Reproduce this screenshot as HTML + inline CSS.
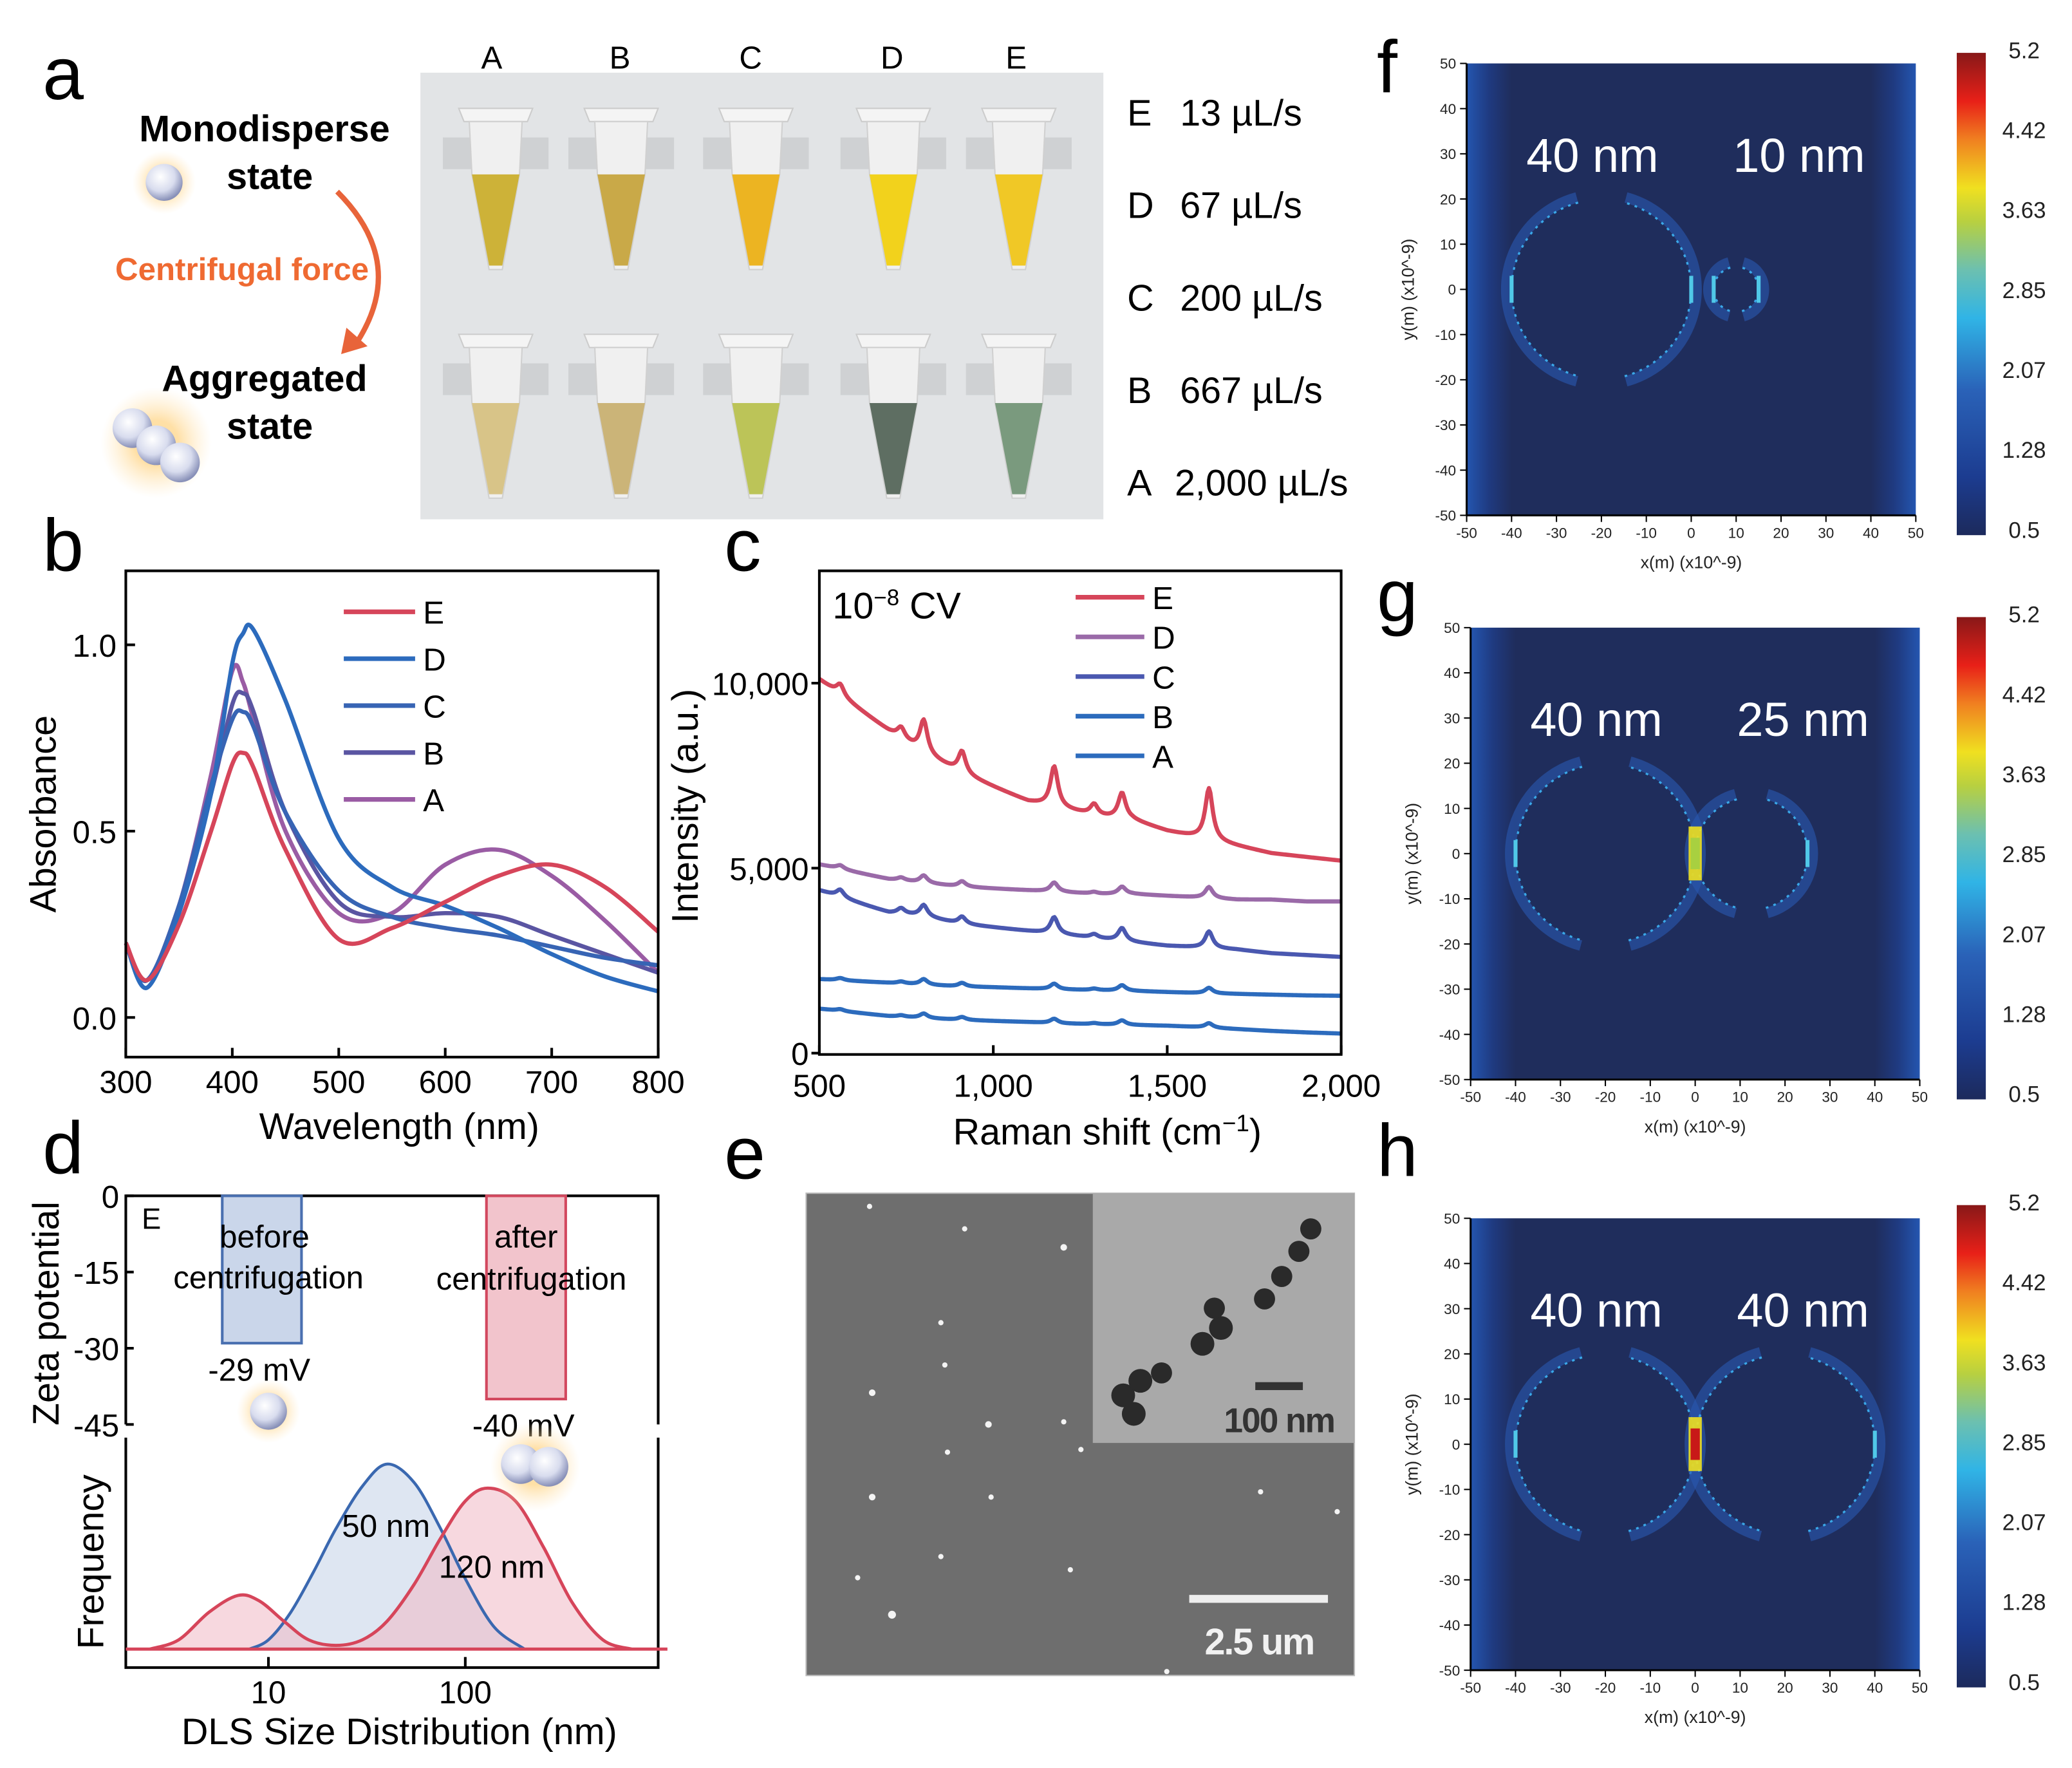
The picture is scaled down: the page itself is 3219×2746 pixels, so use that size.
<!DOCTYPE html>
<html><head><meta charset="utf-8">
<style>
html,body{margin:0;padding:0;background:#fff;}
svg{display:block;font-family:"Liberation Sans",Arial,sans-serif;}
</style></head>
<body>
<svg id="fig" width="3219" height="2746" viewBox="0 0 1568 1338" xmlns="http://www.w3.org/2000/svg">
<defs>
<radialGradient id="sph" cx="0.4" cy="0.35" r="0.65"><stop offset="0" stop-color="#ffffff"/><stop offset="0.6" stop-color="#d8dcee"/><stop offset="1" stop-color="#8890b8"/></radialGradient>
<radialGradient id="glow" cx="0.5" cy="0.5" r="0.5"><stop offset="0.4" stop-color="#ffd890" stop-opacity="0.8"/><stop offset="1" stop-color="#ffe8c0" stop-opacity="0"/></radialGradient>
<linearGradient id="hmbg" x1="0" x2="1" y1="0" y2="0"><stop offset="0" stop-color="#2456b0"/><stop offset="0.05" stop-color="#1f3a80"/><stop offset="0.1" stop-color="#1f2d5c"/><stop offset="0.9" stop-color="#1f2d5c"/><stop offset="0.95" stop-color="#1f3a80"/><stop offset="1" stop-color="#2456b0"/></linearGradient>
<linearGradient id="cbar" x1="0" x2="0" y1="1" y2="0"><stop offset="0" stop-color="#1c2a5c"/><stop offset="0.12" stop-color="#1c3c90"/><stop offset="0.3" stop-color="#2a62b8"/><stop offset="0.45" stop-color="#30b4e6"/><stop offset="0.55" stop-color="#6cc0b0"/><stop offset="0.65" stop-color="#b8d040"/><stop offset="0.72" stop-color="#f0e020"/><stop offset="0.82" stop-color="#f08020"/><stop offset="0.9" stop-color="#e82018"/><stop offset="1" stop-color="#881818"/></linearGradient>
</defs>

<g font-size="56" fill="#000">
<text x="32" y="75">a</text>
<text x="32" y="432">b</text>
<text x="548" y="432">c</text>
<text x="32" y="888">d</text>
<text x="548" y="892">e</text>
<text x="1042" y="70">f</text>
<text x="1042" y="470">g</text>
<text x="1042" y="890">h</text>
</g>

<g>
<text x="200" y="107" font-size="28" font-weight="bold" text-anchor="middle">Monodisperse</text>
<text x="204" y="143" font-size="28" font-weight="bold" text-anchor="middle">state</text>
<circle cx="124" cy="138" r="24" fill="url(#glow)"/>
<circle cx="124" cy="138" r="14" fill="url(#sph)"/>
<path d="M255,145 Q310,200 268,262" fill="none" stroke="#e8643a" stroke-width="4"/>
<path d="M258,268 L262,248 L278,262 Z" fill="#e8643a"/>
<text x="183" y="212" font-size="24" font-weight="bold" fill="#ef6a32" text-anchor="middle">Centrifugal force</text>
<text x="200" y="296" font-size="28" font-weight="bold" text-anchor="middle">Aggregated</text>
<text x="204" y="332" font-size="28" font-weight="bold" text-anchor="middle">state</text>
<g>
<circle cx="118" cy="335" r="42" fill="url(#glow)"/>
<circle cx="100" cy="324" r="15" fill="url(#sph)"/>
<circle cx="118" cy="337" r="15" fill="url(#sph)"/>
<circle cx="136" cy="350" r="15" fill="url(#sph)"/>
</g>
<rect x="318" y="55" width="517" height="338" fill="#e2e4e6"/>
<g id="tubes"></g>
<g font-size="24" text-anchor="middle">
<text x="372" y="52">A</text><text x="469" y="52">B</text><text x="568" y="52">C</text><text x="675" y="52">D</text><text x="769" y="52">E</text>
</g>
<g font-size="28">
<text x="853" y="95">E</text><text x="893" y="95">13 µL/s</text>
<text x="853" y="165">D</text><text x="893" y="165">67 µL/s</text>
<text x="853" y="235">C</text><text x="893" y="235">200 µL/s</text>
<text x="853" y="305">B</text><text x="893" y="305">667 µL/s</text>
<text x="853" y="375">A</text><text x="889" y="375">2,000 µL/s</text>
</g>
</g>

<g>
<g id="bcurves"></g>
<rect x="95" y="432" width="403" height="368" fill="none" stroke="#000" stroke-width="2"/>
<g id="bticks" font-size="24"></g>
<text x="302" y="862" font-size="28" text-anchor="middle">Wavelength (nm)</text>
<text transform="translate(42,616) rotate(-90)" font-size="28" text-anchor="middle">Absorbance</text>
<g id="blegend" font-size="24"></g>
</g>

<g>
<g id="ccurves"></g>
<rect x="620" y="432" width="395" height="366" fill="none" stroke="#000" stroke-width="2"/>
<g id="cticks" font-size="24"></g>
<text x="838" y="866" font-size="28" text-anchor="middle">Raman shift (cm<tspan dy="-10" font-size="18">−1</tspan><tspan dy="10">)</tspan></text>
<text transform="translate(528,610) rotate(-90)" font-size="28" text-anchor="middle">Intensity (a.u.)</text>
<text x="630" y="468" font-size="28">10<tspan dy="-10" font-size="17">−8</tspan><tspan dy="10"> CV</tspan></text>
<g id="clegend" font-size="24"></g>
</g>

<g>
<path d="M95,1078 L95,905 L498,905 L498,1078" fill="none" stroke="#000" stroke-width="2"/>
<path d="M95,1088 L95,1262 L498,1262 L498,1088" fill="none" stroke="#000" stroke-width="2"/>
<g id="zeta"></g>
<g id="dls"></g>
<g id="dticks" font-size="24"></g>
<text x="107" y="930" font-size="22">E</text>
<g font-size="24" text-anchor="middle">
<text x="200" y="944">before</text><text x="203" y="975">centrifugation</text>
<text x="398" y="944">after</text><text x="402" y="976">centrifugation</text>
<text x="196" y="1045">-29 mV</text><text x="396" y="1087">-40 mV</text>
<text x="292" y="1163">50 nm</text><text x="372" y="1194">120 nm</text>
</g>
<circle cx="203" cy="1068" r="24" fill="url(#glow)"/>
<circle cx="203" cy="1068" r="14" fill="url(#sph)"/>
<circle cx="405" cy="1110" r="34" fill="url(#glow)"/>
<circle cx="394" cy="1108" r="15" fill="url(#sph)"/>
<circle cx="415" cy="1110" r="15" fill="url(#sph)"/>
<text transform="translate(44,994) rotate(-90)" font-size="28" text-anchor="middle">Zeta potential</text>
<text transform="translate(78,1182) rotate(-90)" font-size="28" text-anchor="middle">Frequency</text>
<text x="302" y="1320" font-size="28" text-anchor="middle">DLS Size Distribution (nm)</text>
</g>

<g>
<rect x="610" y="903" width="415" height="365" fill="#6e6e6e" stroke="#bbb"/>
<g fill="#f4f4f4">
<circle cx="658" cy="913" r="2"/><circle cx="730" cy="930" r="2"/><circle cx="805" cy="944" r="2.5"/><circle cx="712" cy="1001" r="2"/><circle cx="660" cy="1054" r="2.5"/><circle cx="715" cy="1033" r="2"/><circle cx="748" cy="1078" r="2.5"/><circle cx="805" cy="1076" r="2"/><circle cx="717" cy="1099" r="2"/><circle cx="660" cy="1133" r="2.5"/><circle cx="818" cy="1097" r="2"/><circle cx="750" cy="1133" r="2"/><circle cx="675" cy="1222" r="3"/><circle cx="649" cy="1194" r="2"/><circle cx="712" cy="1178" r="2"/><circle cx="810" cy="1188" r="2"/><circle cx="883" cy="1265" r="2"/><circle cx="954" cy="1129" r="2"/><circle cx="1012" cy="1144" r="2"/>
</g>
<rect x="827" y="903" width="198" height="189" fill="#a9a9a9"/>
<g fill="#2a2a2a">
<circle cx="850" cy="1056" r="9"/><circle cx="863" cy="1045" r="9"/><circle cx="879" cy="1039" r="8"/><circle cx="858" cy="1070" r="9"/>
<circle cx="910" cy="1017" r="9"/><circle cx="924" cy="1005" r="9"/><circle cx="919" cy="990" r="8"/>
<circle cx="957" cy="983" r="8"/><circle cx="970" cy="966" r="8"/><circle cx="983" cy="947" r="8"/><circle cx="992" cy="930" r="8"/>
</g>
<rect x="950" y="1046" width="36" height="6" fill="#333"/>
<text x="968" y="1084" font-size="26" font-weight="bold" fill="#333" text-anchor="middle" letter-spacing="-1">100 nm</text>
<rect x="900" y="1207" width="105" height="6" fill="#eee"/>
<text x="953" y="1252" font-size="28" font-weight="bold" fill="#f2f2f2" text-anchor="middle" letter-spacing="-1">2.5 um</text>
</g>

<g id="heatmaps"></g>
</svg>

<script>
// ---------- Panel b data ----------
const bWave = [300,320,350,380,400,410,420,450,500,550,600,650,700,750,800];
const bSeriesNames = ["E","D","C","B","A"];
const bE = [0.20,0.10,0.25,0.50,0.68,0.71,0.67,0.45,0.21,0.24,0.31,0.38,0.41,0.35,0.23];
const bD = [0.20,0.08,0.28,0.60,0.95,1.03,1.04,0.85,0.48,0.35,0.30,0.24,0.17,0.11,0.07];
const bC = [0.20,0.10,0.30,0.62,0.80,0.82,0.78,0.55,0.34,0.27,0.24,0.22,0.19,0.16,0.14];
const bB = [0.20,0.10,0.30,0.60,0.84,0.87,0.82,0.55,0.31,0.27,0.28,0.27,0.22,0.17,0.12];
const bA = [0.20,0.10,0.30,0.65,0.93,0.90,0.80,0.50,0.28,0.28,0.41,0.45,0.38,0.26,0.12];
const bXTicks = [300,400,500,600,700,800];
const bYTicks = [0.0,0.5,1.0];
const bYTickLabels = ["0.0","0.5","1.0"];

// ---------- Panel c data ----------
const cShift = [500,600,700,800,900,1000,1100,1200,1300,1400,1500,1600,1700,1800,1900,2000];
const cE = [10100,9400,8700,8100,7600,7200,6800,6600,6400,6300,6000,5800,5600,5400,5300,5200];
const cD = [5100,4900,4700,4600,4500,4450,4400,4350,4300,4300,4250,4200,4150,4150,4100,4100];
const cC = [4400,4100,3800,3700,3500,3400,3300,3200,3100,3000,2900,2850,2800,2700,2650,2600];
const cB = [2000,1950,1900,1850,1800,1780,1750,1720,1700,1680,1650,1620,1600,1580,1560,1550];
const cA = [1200,1100,1000,950,900,870,840,800,780,760,740,700,650,600,560,530];
const cPeakPos = [560,735,800,910,1175,1290,1370,1620];
const cPeakE = [300,300,900,600,1100,300,700,1400];
const cPeakD = [100,80,200,150,250,50,200,300];
const cPeakC = [200,150,300,200,450,100,350,450];
const cPeakB = [60,50,150,100,150,40,150,150];
const cPeakA = [50,40,120,80,120,30,120,120];
const cXTicks = [500,1000,1500,2000];
const cXTickLabels = ["500","1,000","1,500","2,000"];
const cYTicks = [0,5000,10000];
const cYTickLabels = ["0","5,000","10,000"];

// ---------- Panel d data ----------
const zetaLabels = ["before","after"];
const zetaValues = [-29,-40];
const zetaYTicks = [0,-15,-30,-45];
const dlsBlueSize = [8,10,13,17,22,30,40,55,75,100,140,200];
const dlsBlueFreq = [0,0.05,0.2,0.42,0.65,0.88,1.0,0.9,0.65,0.38,0.12,0];
const dlsRedSize = [2.5,3.5,5,7,9,12,16,22,30,40,55,75,100,130,180,250,350,500,700];
const dlsRedFreq = [0,0.05,0.2,0.29,0.26,0.15,0.05,0.02,0.05,0.15,0.35,0.6,0.8,0.87,0.8,0.55,0.25,0.05,0];
const dlsXTicks = [10,100];

const NS = "http://www.w3.org/2000/svg";
function mk(parent, tag, attrs, text){
  const e = document.createElementNS(NS, tag);
  for (const k in attrs) e.setAttribute(k, attrs[k]);
  if (text !== undefined) e.textContent = text;
  parent.appendChild(e);
  return e;
}
function smooth(pts){
  let d = "M" + pts[0][0].toFixed(2) + "," + pts[0][1].toFixed(2);
  for (let i=0;i<pts.length-1;i++){
    const p0=pts[Math.max(0,i-1)], p1=pts[i], p2=pts[i+1], p3=pts[Math.min(pts.length-1,i+2)];
    const c1=[p1[0]+(p2[0]-p0[0])/6, p1[1]+(p2[1]-p0[1])/6];
    const c2=[p2[0]-(p3[0]-p1[0])/6, p2[1]-(p3[1]-p1[1])/6];
    d += " C"+c1[0].toFixed(2)+","+c1[1].toFixed(2)+" "+c2[0].toFixed(2)+","+c2[1].toFixed(2)+" "+p2[0].toFixed(2)+","+p2[1].toFixed(2);
  }
  return d;
}

// ---------- Tubes ----------
const tubeG = document.getElementById("tubes");
const tubeX = [375,470,572,676,771];
const topColors = ["#cdb238","#c9a948","#ecb422","#f2d21c","#f0c826"];
const botColors = ["#d8c488","#cbb478","#bcc458","#5e6e62","#7a9a7e"];
[[82,132,204,topColors],[253,305,377,botColors]].forEach(function(row){
  tubeX.forEach(function(cx, i){
    const g = mk(tubeG, "g", {});
    
    
    mk(g, "rect", {x:cx-40, y:row[0]+22, width:22, height:24, fill:"#b8babc", opacity:0.45});
    mk(g, "rect", {x:cx+18, y:row[0]+22, width:22, height:24, fill:"#b8babc", opacity:0.45});
    mk(g, "path", {d:"M"+(cx-28)+","+row[0]+" L"+(cx+28)+","+row[0]+" L"+(cx+24)+","+(row[0]+10)+" L"+(cx-24)+","+(row[0]+10)+" Z", fill:"#f4f4f4", stroke:"#ccc"});
    mk(g, "path", {d:"M"+(cx-20)+","+(row[0]+10)+" L"+(cx+20)+","+(row[0]+10)+" L"+(cx+18)+","+row[1]+" L"+(cx+5)+","+row[2]+" L"+(cx-5)+","+row[2]+" L"+(cx-18)+","+row[1]+" Z", fill:"#f0f0f0", stroke:"#d0d0d0"});
    mk(g, "path", {d:"M"+(cx-18)+","+row[1]+" L"+(cx+18)+","+row[1]+" L"+(cx+5)+","+(row[2]-3)+" L"+(cx-5)+","+(row[2]-3)+" Z", fill:row[3][i]});
  });
});

// ---------- Panel b ----------
const bx = v => 95 + (v-300)/500*403;
const by = v => 770 - v*282;
const bColors = {E:"#d6455a",D:"#2c6bbd",C:"#3764b4",B:"#5a55a2",A:"#9a5ca4"};
const bData = {E:bE,D:bD,C:bC,B:bB,A:bA};
const bG = document.getElementById("bcurves");
["A","B","C","D","E"].forEach(function(n){
  const p = mk(bG, "path", {d:smooth(bWave.map((w,i)=>[bx(w),by(bData[n][i])])), fill:"none", stroke:bColors[n], "stroke-width":3.2, "stroke-linejoin":"round"});
  
  
});
const bT = document.getElementById("bticks");
bXTicks.forEach(function(t){
  mk(bT, "line", {x1:bx(t), x2:bx(t), y1:800, y2:793, stroke:"#000", "stroke-width":2});
  const tx = mk(bT, "text", {x:bx(t), y:827, "text-anchor":"middle"}, String(t));
  
  
});
bYTicks.forEach(function(t,i){
  mk(bT, "line", {x1:95, x2:102, y1:by(t), y2:by(t), stroke:"#000", "stroke-width":2});
  const tx = mk(bT, "text", {x:88, y:by(t)+9, "text-anchor":"end"}, bYTickLabels[i]);
  
  
});
const bL = document.getElementById("blegend");
bSeriesNames.forEach(function(n,i){
  const y = 463 + i*35.5;
  mk(bL, "line", {x1:260, x2:314, y1:y, y2:y, stroke:bColors[n], "stroke-width":3.5});
  const tx = mk(bL, "text", {x:320, y:y+9}, n);
  
  
});

// ---------- Panel c ----------
const cx = v => 620 + (v-500)/1500*395;
const cy = v => 797 - v*0.028;
const cColors = {E:"#d6455a",D:"#9a6aa8",C:"#4a58b0",B:"#2c6bbd",A:"#2c6bbd"};
const cBase = {E:cE,D:cD,C:cC,B:cB,A:cA};
const cPk = {E:cPeakE,D:cPeakD,C:cPeakC,B:cPeakB,A:cPeakA};
const cG = document.getElementById("ccurves");
function baseAt(arr, x){
  for (let i=0;i<cShift.length-1;i++){
    if (x<=cShift[i+1]){ const f=(x-cShift[i])/(cShift[i+1]-cShift[i]); return arr[i]+(arr[i+1]-arr[i])*f; }
  }
  return arr[arr.length-1];
}
["A","B","C","D","E"].forEach(function(n){
  let d = "";
  for (let x=500; x<=2000; x+=4){
    let v = baseAt(cBase[n], x);
    cPeakPos.forEach(function(p,k){ const w=13; v += cPk[n][k]*w*w/((x-p)*(x-p)+w*w); });
    d += (x===500?"M":"L") + cx(x).toFixed(2) + "," + cy(v).toFixed(2);
  }
  const p = mk(cG, "path", {d:d, fill:"none", stroke:cColors[n], "stroke-width":3.2, "stroke-linejoin":"round"});
  
  
});
const cT = document.getElementById("cticks");
cXTicks.forEach(function(t,i){
  mk(cT, "line", {x1:cx(t), x2:cx(t), y1:798, y2:791, stroke:"#000", "stroke-width":2});
  const tx = mk(cT, "text", {x:cx(t), y:830, "text-anchor":"middle"}, cXTickLabels[i]);
  
  
});
cYTicks.forEach(function(t,i){
  mk(cT, "line", {x1:614, x2:620, y1:cy(t), y2:cy(t), stroke:"#000", "stroke-width":2});
  const tx = mk(cT, "text", {x:612, y:cy(t)+9, "text-anchor":"end"}, cYTickLabels[i]);
  
  
});
const cL = document.getElementById("clegend");
bSeriesNames.forEach(function(n,i){
  const y = 452 + i*30;
  mk(cL, "line", {x1:814, x2:866, y1:y, y2:y, stroke:cColors[n], "stroke-width":3.5});
  const tx = mk(cL, "text", {x:872, y:y+9}, n);
  
  
});

// ---------- Panel d ----------
const zy = v => 905 - v*(173/45);
const zG = document.getElementById("zeta");
const zetaX = [168,368];
const zetaFill = ["#cad6ea","#f2c4cc"];
const zetaStroke = ["#4a70b0","#d2485e"];
zetaValues.forEach(function(v,i){
  const r = mk(zG, "rect", {x:zetaX[i], y:905, width:60, height:zy(v)-905, fill:zetaFill[i], stroke:zetaStroke[i], "stroke-width":2});
  
  
});
const lx = v => 95 + (Math.log10(v) - Math.log10(1.885))*149;
const ly = v => 1248 - v*140;
const dG = document.getElementById("dls");
function area(sizes, freq){
  const pts = sizes.map((s,i)=>[lx(s),ly(freq[i])]);
  return smooth(pts) + " L" + pts[pts.length-1][0] + ",1248 L" + pts[0][0] + ",1248 Z";
}
const blueA = mk(dG, "path", {d:area(dlsBlueSize,dlsBlueFreq), fill:"#c8d6ea", opacity:0.6});


const redA = mk(dG, "path", {d:area(dlsRedSize,dlsRedFreq), fill:"#f0b8c4", opacity:0.55});


const blueL = mk(dG, "path", {d:smooth(dlsBlueSize.map((s,i)=>[lx(s),ly(dlsBlueFreq[i])])), fill:"none", stroke:"#3a68b0", "stroke-width":2.2});


const redL = mk(dG, "path", {d:smooth(dlsRedSize.map((s,i)=>[lx(s),ly(dlsRedFreq[i])])), fill:"none", stroke:"#d6455a", "stroke-width":2.4});


mk(dG, "line", {x1:95, x2:505, y1:1248, y2:1248, stroke:"#d6455a", "stroke-width":2.4});
const dT = document.getElementById("dticks");
zetaYTicks.forEach(function(t){
  mk(dT, "line", {x1:95, x2:101, y1:zy(t), y2:zy(t), stroke:"#000", "stroke-width":2});
  const tx = mk(dT, "text", {x:90, y:zy(t)+9, "text-anchor":"end"}, String(t));
  
  
});
dlsXTicks.forEach(function(t){
  mk(dT, "line", {x1:lx(t), x2:lx(t), y1:1262, y2:1254, stroke:"#000", "stroke-width":2});
  const tx = mk(dT, "text", {x:lx(t), y:1289, "text-anchor":"middle"}, String(t));
  
  
});

// ---------- Panels f,g,h ----------
const hmG = document.getElementById("heatmaps");
const maps = [
  {name:"f", x:1110, y:48, r2:5, c2:10, hot:null, label2:"10 nm", cb:40},
  {name:"g", x:1113, y:475, r2:12.5, c2:12.5, hot:"#a8d040", label2:"25 nm", cb:467},
  {name:"h", x:1113, y:922, r2:20, c2:20, hot:"#c81818", label2:"40 nm", cb:912}
];
const cbLabels = ["5.2","4.42","3.63","2.85","2.07","1.28","0.5"];
const axisVals = [-50,-40,-30,-20,-10,0,10,20,30,40,50];
function arcPath(cxp, cyp, r, a0, a1){
  const p0=[cxp+r*Math.cos(a0*Math.PI/180), cyp-r*Math.sin(a0*Math.PI/180)];
  const p1=[cxp+r*Math.cos(a1*Math.PI/180), cyp-r*Math.sin(a1*Math.PI/180)];
  return "M"+p0[0].toFixed(2)+","+p0[1].toFixed(2)+" A"+r+","+r+" 0 0 0 "+p1[0].toFixed(2)+","+p1[1].toFixed(2);
}
maps.forEach(function(m){
  const W=340, H=342, s=W/100;
  const g = mk(hmG, "g", {});
  
  
  mk(g, "rect", {x:m.x, y:m.y, width:W, height:H, fill:"url(#hmbg)"});
  const px = v => m.x + (v+50)*s;
  const py = v => m.y + (50-v)*H/100;
  [[-20,20],[m.c2,m.r2]].forEach(function(c){
    const r = c[1]*s;
    [[-75,75],[105,255]].forEach(function(a){
      mk(g, "path", {d:arcPath(px(c[0]), py(0), r+4, a[0], a[1]), fill:"none", stroke:"#2a58b0", "stroke-width":8, opacity:0.6});
      mk(g, "path", {d:arcPath(px(c[0]), py(0), r, a[0], a[1]), fill:"none", stroke:"#3aa8e8", "stroke-width":1.6, "stroke-dasharray":"2 4"});
    });
    mk(g, "rect", {x:px(c[0]-c[1])-1.5, y:py(3), width:3, height:6*s, fill:"#50c8e8"});
    mk(g, "rect", {x:px(c[0]+c[1])-1.5, y:py(3), width:3, height:6*s, fill:"#50c8e8"});
  });
  if (m.hot){
    mk(g, "rect", {x:px(0)-5, y:py(6), width:10, height:12*s, fill:"#f0e020", opacity:0.9});
    mk(g, "rect", {x:px(0)-3.5, y:py(3.5), width:7, height:7*s, fill:m.hot});
  }
  mk(g, "text", {x:px(-22), y:m.y+82, "font-size":36, fill:"#fff", "text-anchor":"middle"}, "40 nm");
  mk(g, "text", {x:px(24), y:m.y+82, "font-size":36, fill:"#fff", "text-anchor":"middle"}, m.label2);
  mk(g, "line", {x1:m.x, x2:m.x, y1:m.y, y2:m.y+H, stroke:"#000", "stroke-width":1.5});
  mk(g, "line", {x1:m.x, x2:m.x+W, y1:m.y+H, y2:m.y+H, stroke:"#000", "stroke-width":1.5});
  axisVals.forEach(function(v){
    mk(g, "line", {x1:m.x-5, x2:m.x, y1:py(v), y2:py(v), stroke:"#000"});
    mk(g, "text", {x:m.x-8, y:py(v)+4, "font-size":11, "text-anchor":"end", fill:"#222"}, String(v));
    mk(g, "line", {x1:px(v), x2:px(v), y1:m.y+H, y2:m.y+H+5, stroke:"#000"});
    mk(g, "text", {x:px(v), y:m.y+H+17, "font-size":11, "text-anchor":"middle", fill:"#222"}, String(v));
  });
  mk(g, "text", {x:m.x+W/2, y:m.y+H+40, "font-size":13, "text-anchor":"middle", fill:"#222"}, "x(m) (x10^-9)");
  mk(g, "text", {transform:"translate("+(m.x-40)+","+(m.y+H/2)+") rotate(-90)", "font-size":13, "text-anchor":"middle", fill:"#222"}, "y(m) (x10^-9)");
  const cb = mk(g, "rect", {x:1481, y:m.cb, width:22, height:365, fill:"url(#cbar)"});
  
  
  cbLabels.forEach(function(l,i){
    const t = mk(g, "text", {x:1532, y:m.cb+4+i*60.5, "font-size":17, "text-anchor":"middle", fill:"#222"}, l);
    
    
  });
});
</script>
</body></html>
